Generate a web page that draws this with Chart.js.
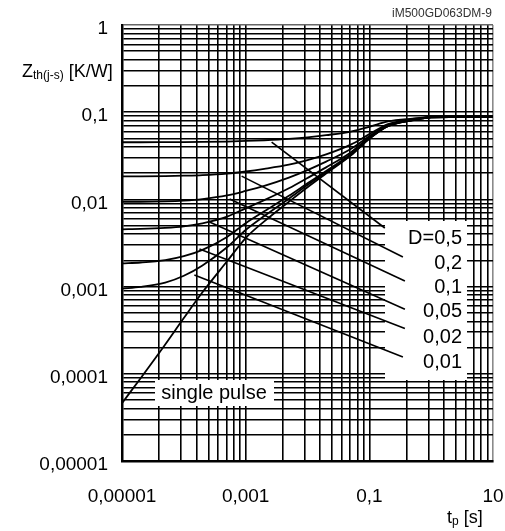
<!DOCTYPE html>
<html>
<head>
<meta charset="utf-8">
<script src="https://cdn.jsdelivr.net/npm/chart.js@4.4.1/dist/chart.umd.min.js"></script>
<style>
  html, body { margin: 0; padding: 0; background: #fff; }
  #wrap { position: relative; width: 505px; height: 531px; }
</style>
</head>
<body>
<div id="wrap"><canvas id="zth"></canvas></div>
<script>
// pulse duration t_p [s]
const tp = [1e-5, 2e-5, 5e-5, 1e-4, 2e-4, 5e-4, 1e-3, 2e-3, 5e-3, 1e-2, 2e-2, 5e-2, 0.1, 0.2, 0.5, 1, 2, 5, 10];

// Zth(j-s) [K/W]
const zSingle = [4.6e-5, 8.9e-5, 2.17e-4, 4.36e-4, 8.6e-4, 1.95e-3, 3.6e-3, 5.6e-3, 9.4e-3, 0.0138, 0.0198, 0.0318, 0.0495, 0.0690, 0.0808, 0.0875, 0.088, 0.088, 0.088];
const zD05  = [0.0452, 0.0452, 0.0453, 0.0454, 0.0456, 0.0461, 0.0468, 0.0477, 0.0494, 0.0514, 0.0545, 0.0600, 0.0680, 0.0785, 0.0846, 0.0878, 0.088, 0.088, 0.088];
const zD02  = [0.0184, 0.0184, 0.0185, 0.0187, 0.0190, 0.0198, 0.0209, 0.0224, 0.0250, 0.0282, 0.0328, 0.0425, 0.0560, 0.0730, 0.0826, 0.0878, 0.088, 0.088, 0.088];
const zD01  = [0.0094, 0.0094, 0.0095, 0.0097, 0.0101, 0.0111, 0.0125, 0.0143, 0.0178, 0.0217, 0.0271, 0.0378, 0.0530, 0.0712, 0.0818, 0.0877, 0.088, 0.088, 0.088];
const zD005 = [0.00454, 0.00458, 0.00471, 0.00491, 0.00532, 0.00635, 0.0079, 0.0098, 0.0134, 0.0176, 0.0233, 0.0346, 0.0512, 0.0700, 0.0812, 0.0875, 0.088, 0.088, 0.088];
const zD002 = [0.00185, 0.00189, 0.00201, 0.00223, 0.00264, 0.00371, 0.00533, 0.0073, 0.0110, 0.0153, 0.0212, 0.0329, 0.0502, 0.0694, 0.0810, 0.0875, 0.088, 0.088, 0.088];
const zD001 = [0.000946, 0.00099, 0.00111, 0.00133, 0.00175, 0.00283, 0.00446, 0.00644, 0.0102, 0.0146, 0.0205, 0.0323, 0.0498, 0.0692, 0.0809, 0.0875, 0.088, 0.088, 0.088];

// leader lines from each curve to its label  [t, Z]
const leaderFrom = [[2.63e-3, 0.0455], [8.6e-4, 0.0185], [5.5e-4, 0.0101], [2.6e-4, 0.0055], [1.79e-4, 0.0027], [1.48e-4, 0.00136]];
const leaderTo   = [[0.178, 0.0047], [0.349, 0.00218], [0.376, 0.00116], [0.376, 0.00055], [0.376, 0.00033], [0.349, 0.000156]];
const dutyLabels = ['D=0,5', '0,2', '0,1', '0,05', '0,02', '0,01'];

// grid: the time axis is ruled in 2-decade cycles
const xGrid = [1e-5, 4e-5, 9e-5, 1.6e-4, 2.5e-4, 3.6e-4, 4.9e-4, 6.4e-4, 8.1e-4,
               1e-3, 4e-3, 9e-3, 1.6e-2, 2.5e-2, 3.6e-2, 4.9e-2, 6.4e-2, 8.1e-2,
               0.1, 0.4, 0.9, 1.6, 2.5, 3.6, 4.9, 6.4, 8.1, 10];
const xLabelVals = [1e-5, 1e-3, 0.1, 10];
const xLabelText = ['0,00001', '0,001', '0,1', '10'];
const yDecades = [1e-5, 1e-4, 1e-3, 1e-2, 1e-1];
const yLabelVals = [1, 0.1, 0.01, 0.001, 0.0001, 0.00001];
const yLabelText = ['1', '0,1', '0,01', '0,001', '0,0001', '0,00001'];

const yGrid = [];
yDecades.forEach(d => { for (let k = 1; k < 10; k++) yGrid.push(d * k); });
yGrid.push(1);

const near = (a, b) => Math.abs(Math.log10(a) - Math.log10(b)) < 1e-6;
const FONT = '"Liberation Sans", Arial, sans-serif';

const pts = arr => tp.map((t, i) => ({ x: t, y: arr[i] }));
const curve = arr => ({ data: pts(arr), borderColor: '#000', borderWidth: 1.8, pointRadius: 0, cubicInterpolationMode: 'monotone', fill: false });

const datasets = [zSingle, zD05, zD02, zD01, zD005, zD002, zD001].map(curve);
leaderFrom.forEach((p, i) => {
    datasets.push({
        data: [{ x: p[0], y: p[1] }, { x: leaderTo[i][0], y: leaderTo[i][1] }],
        borderColor: '#000', borderWidth: 1.6, pointRadius: 0, fill: false
    });
});

// white label boxes, labels and axis titles
const textPlugin = {
    id: 'texts',
    beforeDatasetsDraw(chart) {
        const c = chart.ctx;
        c.save();
        c.fillStyle = '#fff';
        c.fillRect(385, 221, 82, 159);
        c.fillRect(155, 380, 119, 26);
        c.restore();
    },
    afterDraw(chart) {
        const c = chart.ctx;
        c.save();
        c.fillStyle = '#000';
        c.textBaseline = 'middle';

        c.font = '20px ' + FONT;
        c.textAlign = 'right';
        const ly = [238, 263, 287, 311, 337, 362];
        dutyLabels.forEach((s, i) => c.fillText(s, 462, ly[i]));

        c.textAlign = 'center';
        c.fillText('single pulse', 214, 393);

        // y title
        c.textAlign = 'left';
        let x = 22;
        c.font = '18px ' + FONT;
        c.fillText('Z', x, 72); x += c.measureText('Z').width;
        c.font = '12px ' + FONT;
        c.fillText('th(j-s)', x, 76); x += c.measureText('th(j-s)').width;
        c.font = '18px ' + FONT;
        c.fillText(' [K/W]', x, 72);

        // x title
        x = 447;
        c.fillText('t', x, 518); x += c.measureText('t').width;
        c.font = '12px ' + FONT;
        c.fillText('p', x, 522); x += c.measureText('p').width;
        c.font = '18px ' + FONT;
        c.fillText(' [s]', x, 518);

        c.font = '12px ' + FONT;
        c.fillStyle = '#333';
        c.textAlign = 'right';
        c.fillText('iM500GD063DM-9', 492, 14);
        c.restore();
    }
};

new Chart(document.getElementById('zth'), {
    type: 'line',
    data: { datasets },
    plugins: [textPlugin],
    options: {
        responsive: true,
        maintainAspectRatio: false,
        animation: false,
        layout: { padding: { top: 25, right: 12, left: 0, bottom: 0 } },
        plugins: { legend: { display: false }, tooltip: { enabled: false } },
        scales: {
            x: {
                type: 'logarithmic',
                min: 1e-5, max: 10,
                afterBuildTicks: s => { s.ticks = xGrid.map(v => ({ value: v })); },
                afterFit: s => { s.height = 70; s.paddingLeft = 0; s.paddingRight = 0; },
                grid: {
                    drawTicks: false,
                    lineWidth: 1.6,
                    color: ctx => (ctx.tick && near(ctx.tick.value, 10)) ? '#8a8a8a' : '#000'
                },
                border: { display: true, color: '#000', width: 2.5 },
                ticks: {
                    autoSkip: false, maxRotation: 0, padding: 24,
                    color: '#000', font: { family: FONT, size: 19 },
                    callback: v => {
                        const i = xLabelVals.findIndex(a => near(a, v));
                        return i >= 0 ? xLabelText[i] : '';
                    }
                }
            },
            y: {
                type: 'logarithmic',
                min: 1e-5, max: 1,
                afterBuildTicks: s => { s.ticks = yGrid.map(v => ({ value: v })); },
                afterFit: s => { s.width = 122; s.paddingTop = 0; s.paddingBottom = 0; },
                grid: {
                    drawTicks: false,
                    lineWidth: 1.6,
                    color: ctx => (ctx.tick && near(ctx.tick.value, 1)) ? '#666' : '#000'
                },
                border: { display: true, color: '#000', width: 2.5 },
                ticks: {
                    autoSkip: false, padding: 14, labelOffset: 4,
                    color: '#000', font: { family: FONT, size: 19 },
                    callback: v => {
                        const i = yLabelVals.findIndex(a => near(a, v));
                        return i >= 0 ? yLabelText[i] : '';
                    }
                }
            }
        }
    }
});
</script>
</body>
</html>
